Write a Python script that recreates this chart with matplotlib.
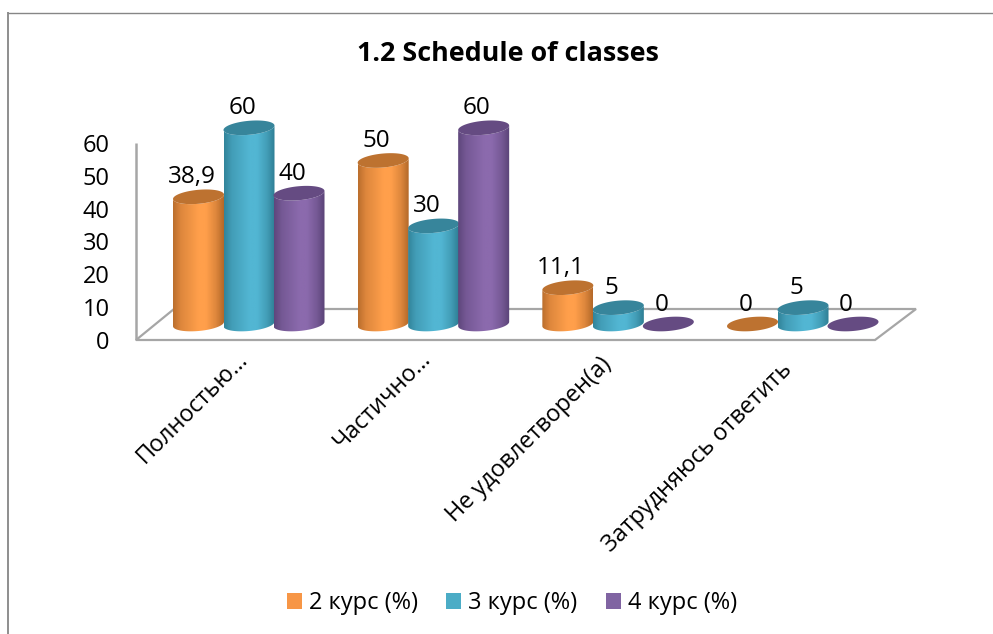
import numpy as np
import matplotlib
matplotlib.use("Agg")
import matplotlib.pyplot as plt
from matplotlib.patches import PathPatch, Polygon, Patch
from matplotlib.path import Path
from matplotlib.transforms import ScaledTranslation

categories = ["Полностью…", "Частично…", "Не удовлетворен(а)", "Затрудняюсь ответить"]
series_names = ["2 курс (%)", "3 курс (%)", "4 курс (%)"]
course2 = [38.9, 50, 11.1, 0]
course3 = [60, 30, 5, 5]
course4 = [40, 60, 0, 0]
value_labels2 = ["38,9", "50", "11,1", "0"]
value_labels3 = ["60", "30", "5", "5"]
value_labels4 = ["40", "60", "0", "0"]
yticks = [0, 10, 20, 30, 40, 50, 60]

W, H = 993, 634
FONT = "Open Sans"
plt.rcParams["font.family"] = [FONT, "DejaVu Sans"]

fig = plt.figure(figsize=(W / 100, H / 100), dpi=100)
fig.patch.set_facecolor("white")

def box(l, t, r, b):
    return [l / W, 1 - b / H, (r - l) / W, (b - t) / H]

# main axes: x px = 249 + 184.67*i, y px = 324 - 3.27*v
GS, X0, PY, Y0 = 184.67, 249.0, 3.27, 324.0
L, R, T, B = 100.0, 930.0, 100.0, 340.0
ax = fig.add_axes(box(L, T, R, B))
ax.set_xlim((L - X0) / GS, (R - X0) / GS)
ax.set_ylim((Y0 - B) / PY, (Y0 - T) / PY)
ax.patch.set_alpha(0)
for s in ax.spines.values():
    s.set_visible(False)
ax.set_yticks([])
ax.set_xticks(range(len(categories)))
ax.set_xticklabels(categories, rotation=45, ha="right", va="top",
                   rotation_mode="anchor", fontsize=16.8, color="black")
ax.tick_params(axis="x", length=0, pad=14)
label_shift_px = [(-13, 12), (-15, 12), (-19, 7), (-23, 2)]
for lab, (dx, dy) in zip(ax.get_xticklabels(), label_shift_px):
    lab.set_transform(lab.get_transform() + ScaledTranslation(dx / 100, dy / 100, fig.dpi_scale_trans))

# pixel overlay for frame/floor
ov = fig.add_axes([0, 0, 1, 1], zorder=-1)
ov.set_xlim(0, W); ov.set_ylim(H, 0); ov.axis("off")
GRAY = "#A6A6A6"
ov.add_patch(Polygon([(136, 340), (875, 340), (916, 309), (174, 309)], closed=True,
                     fc="white", ec=GRAY, lw=1.6))
ov.plot([136, 136], [143, 340], color=GRAY, lw=1.8, solid_capstyle="butt")
ov.plot([8, 993], [12.5, 12.5], color="#868686", lw=1.0, solid_capstyle="butt")
ov.plot([8.2, 8.2], [12, 634], color="#868686", lw=1.3, solid_capstyle="butt")

# y axis labels
ya = fig.add_axes(box(136, 143, 137, 340))
ya.set_ylim(0, 60); ya.set_xticks([])
ya.patch.set_alpha(0)
for s in ya.spines.values():
    s.set_visible(False)
ya.set_yticks(yticks)
ya.set_yticklabels([str(v) for v in yticks], fontsize=17)
ya.tick_params(axis="y", length=0, pad=19)
for t in ya.get_yticklabels():
    t.set_ha("right")

# cylinders
palette = [("#B4692A", "#FF9F4B", "#BD7230"),
           ("#2F7F95", "#52B6D3", "#37859B"),
           ("#5A4377", "#8B6AAD", "#654B82")]
a = 25.5 / GS
b = 7.0 / PY
k = 2.2 / PY
offsets = np.array([-50.5, 0, 50]) / GS
theta = np.linspace(0, 2 * np.pi, 90)
cmap_pos = np.array([0, .15, .5, .65, .85, 1])
cmap_mix = np.array([.9, .45, 0, 0, .45, 1])

def hex2rgb(c):
    return np.array(matplotlib.colors.to_rgb(c))

series = [course2, course3, course4]
labels = [value_labels2, value_labels3, value_labels4]
for j, vals in enumerate(series):
    dark, light, top = palette[j]
    d, l = hex2rgb(dark), hex2rgb(light)
    xs = np.linspace(0, 1, 64)
    mix = np.interp(xs, cmap_pos, cmap_mix)[None, :, None]
    img = l + (d - l) * mix
    for i, v in enumerate(vals):
        cx = i + offsets[j]
        if v > 0:
            t = np.linspace(np.pi, 2 * np.pi, 50)
            low = np.c_[cx + a * np.cos(t), b * np.sin(t) + k * np.cos(t)]
            t2 = t[::-1]
            up = np.c_[cx + a * np.cos(t2), v + b * np.sin(t2) + k * np.cos(t2)]
            verts = np.vstack([low, up, low[:1]])
            patch = PathPatch(Path(verts), fc="none", ec="none", zorder=2 + j)
            ax.add_patch(patch)
            im = ax.imshow(img, extent=(cx - a, cx + a, -5, v + 5), aspect="auto",
                           zorder=2 + j, interpolation="bilinear")
            im.set_clip_path(patch)
        ell = np.c_[cx + a * np.cos(theta), v + b * np.sin(theta) + k * np.cos(theta)]
        ax.add_patch(Polygon(ell, closed=True, fc=top, ec="none", zorder=2 + j))
        ax.annotate(labels[j][i], (cx, v), xytext=(-5, 14), textcoords="offset points",
                    ha="center", va="center", fontsize=17.5, color="black", zorder=10,
                    annotation_clip=False)
ax.set_xlim((L - X0) / GS, (R - X0) / GS)
ax.set_ylim((Y0 - B) / PY, (Y0 - T) / PY)

fig.text(508 / W, 1 - 54 / H, "1.2 Schedule of classes", ha="center", va="center",
         fontsize=19.4, fontweight="bold", color="black")

handles = [Patch(fc=c, ec="none") for c in ["#F79646", "#4BACC6", "#8064A2"]]
fig.legend(handles, series_names, loc="center", bbox_to_anchor=(512 / W, 1 - 603 / H), ncol=3,
           frameon=False, fontsize=17, handlelength=0.64, handleheight=0.64,
           handletextpad=0.3, columnspacing=1.2)
fig.savefig("out.png", dpi=100)
